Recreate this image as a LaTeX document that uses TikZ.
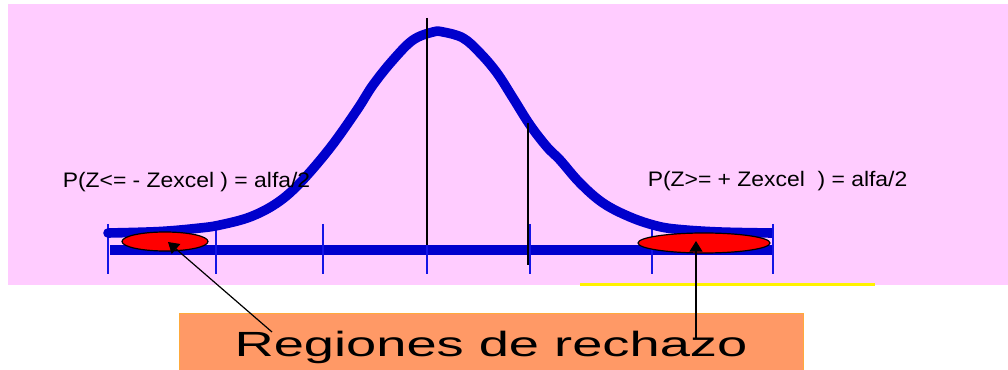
\documentclass[tikz,border=0pt]{standalone}
\usepackage{fontspec}
\setmainfont{Liberation Sans}
\usetikzlibrary{shapes.geometric,arrows.meta}
\definecolor{bgpink}{RGB}{255,204,255}
\definecolor{curveblue}{RGB}{0,0,204}
\definecolor{tickblue}{RGB}{20,20,230}
\definecolor{boxorange}{RGB}{255,153,102}
\definecolor{boxedge}{RGB}{255,170,60}
\begin{document}
\begin{tikzpicture}[x=0.75pt,y=-0.75pt,
  curve/.style={curveblue,line width=7.2pt},
  axistick/.style={tickblue,line width=1.8pt},
  guide/.style={black,line width=1.7pt},
  region/.style={ellipse,draw=black,line width=0.9pt,fill=red,inner sep=0pt},
  pointer/.style={black,line width=0.9pt,-{Triangle[length=8pt,width=9.75pt]}},
  prob/.style={anchor=base west,inner sep=0pt,font=\fontsize{15.75pt}{18pt}\selectfont},
  labelbox/.style={rectangle,fill=boxorange,draw=boxedge,line width=0.6pt,inner sep=0pt,
    minimum width=468pt,minimum height=50.25pt,text height=15.75pt,text depth=0pt,
    font=\fontsize{26.25pt}{30pt}\selectfont},
  ]
\useasboundingbox (0,0) rectangle (1008,370);
\fill[bgpink] (8,4) rectangle (1008,285);
\draw[yellow,line width=1.9pt] (580,284.3) -- (875,284.3);
% axis
\draw[curve] (110,250) -- (772,250);
\foreach \x in {108,216,323,427,530,652,773} \draw[axistick] (\x,224) -- (\x,274);
% bell curve
\draw[curve] plot[smooth,tension=0.6] coordinates {(108,233) (160,231.5) (200,228) (220,225) (250,217) (277,203) (300,183) (330,148) (357,110) (373,85) (393,60) (413,40) (433,32) (443,32) (463,38) (480,53) (497,73) (513,98) (530,125) (547,147) (560,160) (580,183) (603,203) (630,217) (657,226) (680,229.5) (720,232) (772,233)};
\fill[curveblue] (108,233) circle (3.6pt);
% guide lines
\draw[guide] (427,18) -- (427,245);
\draw[guide] (528,123) -- (528,265);
% rejection regions
\node[region,minimum width=64.5pt,minimum height=14.25pt] (lreg) at (165,241.5) {};
\node[region,minimum width=99pt,minimum height=15pt] (rreg) at (704,243) {};
% probability labels
\node[prob] (pleft) at (62.5,188) {\scalebox{1.09}[1]{P(Z<= - Zexcel ) = alfa/2}};
\node[prob] (pright) at (647.5,187) {\scalebox{1.09}[1]{P(Z>= + Zexcel\ \ ) = alfa/2}};
% label box
\node[labelbox] (reg) at (491,346.5) {\scalebox{1.55}[1]{Regiones de rechazo}};
% pointers
\coordinate (la) at (272,332);
\coordinate (ra) at (696,338);
\draw[pointer] (la) -- ([xshift=2.25pt,yshift=-0.4pt]lreg.center);
\draw[pointer] (ra) -- ([yshift=1.5pt]ra |- rreg.center);
\end{tikzpicture}
\end{document}
